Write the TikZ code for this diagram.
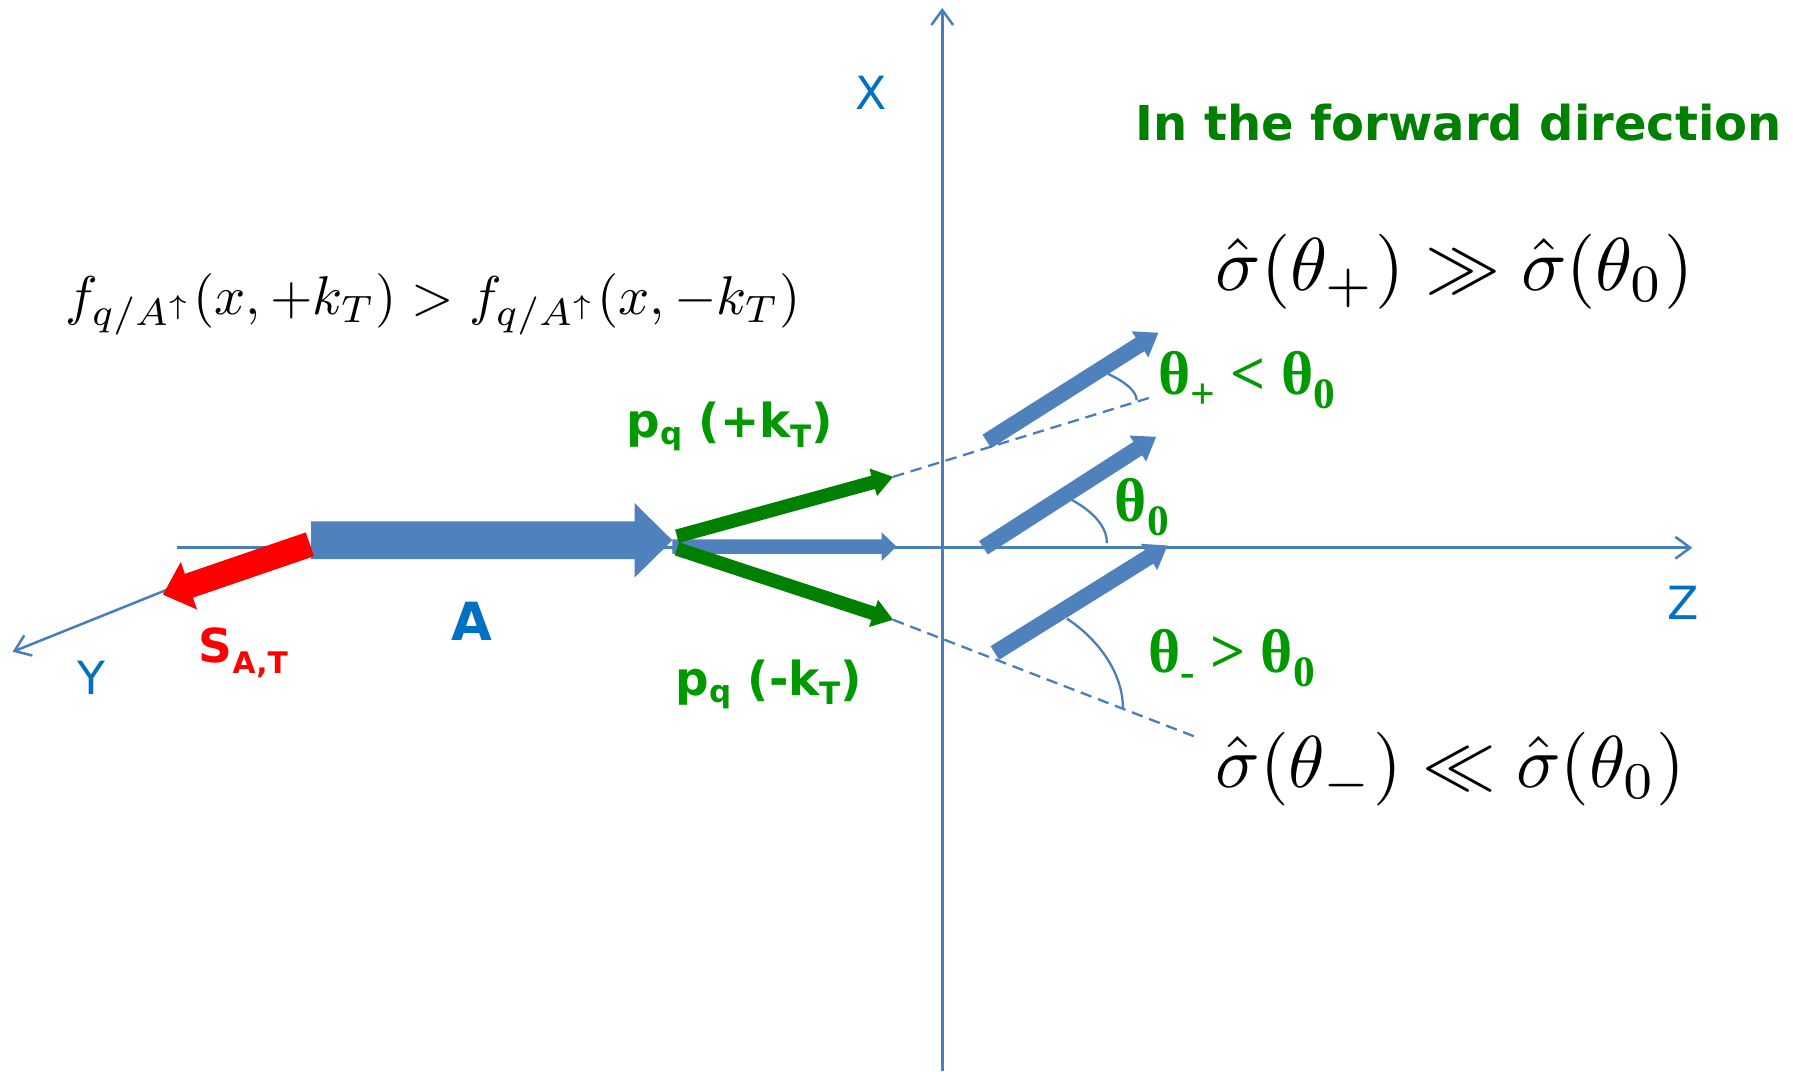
\documentclass[tikz,border=0pt]{standalone}
\usepackage{fontspec}
\usepackage{graphicx}
\usetikzlibrary{arrows.meta,calc}
\newfontfamily\dvs{DejaVu Sans}
\newfontfamily\lserif{Liberation Serif}
\definecolor{axisblue}{RGB}{74,126,187}
\definecolor{fatblue}{RGB}{79,129,189}
\definecolor{lblblue}{RGB}{0,112,192}
\definecolor{brgreen}{RGB}{0,153,0}
\definecolor{dkgreen}{RGB}{0,128,0}
\definecolor{spinred}{RGB}{255,0,0}
\newcommand{\fs}[1]{\fontsize{#1}{#1}\selectfont}
\newcommand{\lowsub}[3]{\raisebox{-#2}{\fs{#1}#3}}
% thick arrow: start, end, half shaft, head length, half head, colour
\newcommand{\fatarrow}[6]{%
  \coordinate (fab) at ($(#2)!#4!(#1)$);
  \fill[#6] ($(#1)!#3!90:(#2)$) -- ($(fab)!#3!90:(#2)$) -- ($(fab)!#5!90:(#2)$) -- (#2)
    -- ($(fab)!#5!-90:(#2)$) -- ($(fab)!#3!-90:(#2)$) -- ($(#1)!#3!-90:(#2)$) -- cycle;}
\begin{document}
\begin{tikzpicture}[x=1pt,y=-1pt,
  axisline/.style={draw=axisblue,line width=2.2pt,-{Straight Barb[length=13pt,width=19pt]}},
  dashline/.style={draw=axisblue,line width=2pt,dash pattern=on 10pt off 6pt},
  anglearc/.style={draw=axisblue,line width=2pt},
  lbl/.style={inner sep=0pt,outer sep=0pt},
  axlbl/.style={lbl,text=lblblue,font=\dvs\fs{40}},
  grlbl/.style={lbl,anchor=base west,text=brgreen,font=\dvs\bfseries\fs{41}},
  thlbl/.style={lbl,anchor=base west,text=brgreen,font=\lserif\bfseries\fs{54}},
  formula/.style={lbl,anchor=base west}]

\fill[white] (0,0) rectangle (1568,937);
\useasboundingbox (0,0) rectangle (1568,937);

% axes
\coordinate (Xb) at (824,937);
\coordinate (Xt) at (824,7);
\coordinate (Zb) at (155,479);
\coordinate (Zt) at (1480,479);
\coordinate (Yb) at (230,482);
\coordinate (Yt) at (11,570);
\draw[axisline] (Xb) -- (Xt);
\draw[axisline] (Zb) -- (Zt);
\draw[axisline] (Yb) -- (Yt);

% arrow end points
\coordinate (As) at (272,472.5);  \coordinate (At) at (588,472.5);
\coordinate (Ms) at (588,478);    \coordinate (Mt) at (784,478);
\coordinate (Gus) at (592,469);   \coordinate (Gut) at (781,417);
\coordinate (Gls) at (592,480);   \coordinate (Glt) at (781,542);
\coordinate (Pus) at (863,386);   \coordinate (Put) at (1013,291);
\coordinate (Pms) at (860,479);   \coordinate (Pmt) at (1011,382);
\coordinate (Pls) at (870,571);   \coordinate (Plt) at (1021,477);
\coordinate (Ss) at (271,476);    \coordinate (St) at (142.5,520);
\coordinate (Du) at (1008,347);   \coordinate (Dl) at (1047,645);

% dashed extensions
\draw[dashline] (Gut) -- (Du);
\draw[dashline] (Glt) -- (Dl);

% angle arcs
\coordinate (au1) at (969,327); \coordinate (au2) at (994,350);
\coordinate (am1) at (937,437); \coordinate (am2) at (968,475);
\coordinate (al1) at (933,541); \coordinate (al2) at (982,619);
\draw[anglearc] (au1) .. controls (984,334) and (994,342) .. (au2);
\draw[anglearc] (am1) .. controls (957,448) and (968,461) .. (am2);
\draw[anglearc] (al1) .. controls (962,560) and (982,590) .. (al2);

% thick arrows
\fatarrow{As}{At}{16.5pt}{33pt}{32.5pt}{fatblue}
\fatarrow{Ms}{Mt}{6.3pt}{13pt}{12.5pt}{fatblue}
\fatarrow{Gus}{Gut}{6pt}{18pt}{12.5pt}{dkgreen}
\fatarrow{Gls}{Glt}{6pt}{18pt}{12.5pt}{dkgreen}
\fatarrow{Pus}{Put}{7pt}{19pt}{13.5pt}{fatblue}
\fatarrow{Pms}{Pmt}{7pt}{19pt}{13.5pt}{fatblue}
\fatarrow{Pls}{Plt}{7pt}{19pt}{13.5pt}{fatblue}
\fatarrow{Ss}{St}{11pt}{24pt}{22pt}{spinred}

% axis labels
\node[axlbl] (lx) at (762,81) {X};
\node[axlbl] (ly) at (80,593) {Y};
\node[axlbl] (lz) at (1472,527) {Z};
\node[lbl,text=lblblue,font=\dvs\bfseries\fs{46}] (la) at (413,543) {A};
\node[lbl,anchor=base west,text=spinred,font=\dvs\bfseries\fs{41}] (ls) at (174,579)
  {S\lowsub{26}{10pt}{A,T}};

% quark labels
\node[grlbl] (lpp) at (548,383) {p\lowsub{27}{6pt}{q} (+k\lowsub{27}{8pt}{T})};
\node[grlbl] (lpm) at (591,608) {p\lowsub{27}{6pt}{q} (-k\lowsub{27}{8pt}{T})};

% angle labels
\node[thlbl] (tp) at (1013,345) {θ\lowsub{38}{12pt}{+} < θ\lowsub{38}{12pt}{0}};
\node[thlbl] (t0) at (975,456) {θ\lowsub{38}{12pt}{0}};
\node[thlbl] (tm) at (1004,588) {θ\lowsub{38}{12pt}{-} > θ\lowsub{38}{12pt}{0}};

% title
\node[lbl,anchor=base west,text=dkgreen,font=\dvs\bfseries\fs{42}] (title) at (993,122.5)
  {In the forward direction};

% formulas
\node[formula] (ff) at (57,275)
  {\resizebox{643pt}{!}{$f_{q/A^{\uparrow}}(x,+k_T) > f_{q/A^{\uparrow}}(x,-k_T)$}};
\node[formula] (fsu) at (1063,254)
  {\resizebox{418pt}{!}{$\hat{\sigma}(\theta_+) \gg \hat{\sigma}(\theta_0)$}};
\node[formula] (fsl) at (1063,689)
  {\resizebox{411pt}{!}{$\hat{\sigma}(\theta_-) \ll \hat{\sigma}(\theta_0)$}};
\end{tikzpicture}
\end{document}
